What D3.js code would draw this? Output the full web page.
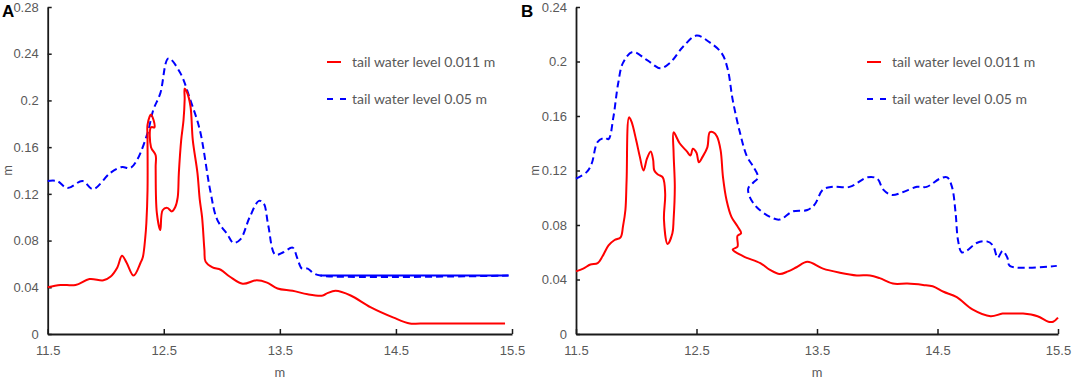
<!DOCTYPE html>
<html>
<head>
<meta charset="utf-8">
<script src="https://cdn.jsdelivr.net/npm/d3@7"></script>
<style>
    body { margin: 0; background: #fff; }
    svg { display: block; font-family: Lato, 'Open Sans', sans-serif; }
</style>
</head>
<body>
<svg id="chart" width="1074" height="380"></svg>
<script>
// x positions (m) and water surface (m)
const xTicks = [11.5, 12.5, 13.5, 14.5, 15.5];
const yTicksA = [0, 0.04, 0.08, 0.12, 0.16, 0.2, 0.24, 0.28];
const yTicksB = [0, 0.04, 0.08, 0.12, 0.16, 0.2, 0.24];
const seriesNames = ['tail water level 0.011 m', 'tail water level 0.05 m'];

const redA = [
    [11.50, 0.040], [11.61, 0.042], [11.74, 0.042], [11.86, 0.047], [11.98, 0.046],
    [12.04, 0.049], [12.10, 0.057], [12.14, 0.067], [12.18, 0.061], [12.24, 0.050],
    [12.30, 0.061], [12.32, 0.066], [12.34, 0.082], [12.35, 0.095], [12.36, 0.123],
    [12.36, 0.169], [12.36, 0.179], [12.39, 0.188], [12.42, 0.177], [12.39, 0.177],
    [12.39, 0.160], [12.43, 0.153], [12.43, 0.143], [12.44, 0.104], [12.47, 0.089],
    [12.49, 0.106], [12.53, 0.108], [12.57, 0.105], [12.60, 0.109], [12.62, 0.117],
    [12.63, 0.138], [12.65, 0.166], [12.67, 0.183], [12.68, 0.201], [12.68, 0.210],
    [12.70, 0.207], [12.73, 0.195], [12.75, 0.166], [12.79, 0.138], [12.81, 0.115],
    [12.83, 0.100], [12.85, 0.072], [12.86, 0.062], [12.92, 0.057], [12.99, 0.055],
    [13.07, 0.049], [13.18, 0.043], [13.30, 0.046], [13.39, 0.044], [13.48, 0.039],
    [13.61, 0.037], [13.74, 0.034], [13.87, 0.033], [13.91, 0.035], [13.98, 0.037],
    [14.11, 0.033], [14.28, 0.023], [14.48, 0.014], [14.62, 0.009], [14.71, 0.009],
    [15.44, 0.009]
];

const blueA = [
    [11.50, 0.131], [11.58, 0.131], [11.67, 0.125], [11.80, 0.131], [11.89, 0.124],
    [12.04, 0.138], [12.14, 0.143], [12.21, 0.142], [12.27, 0.149], [12.36, 0.172],
    [12.41, 0.192], [12.47, 0.206], [12.54, 0.236], [12.64, 0.224], [12.73, 0.200],
    [12.81, 0.175], [12.90, 0.123], [12.96, 0.098], [13.05, 0.085], [13.10, 0.078],
    [13.16, 0.081], [13.24, 0.100], [13.32, 0.114], [13.36, 0.112], [13.40, 0.093],
    [13.46, 0.068], [13.53, 0.070], [13.61, 0.074], [13.65, 0.065], [13.69, 0.056],
    [13.74, 0.056], [13.79, 0.052], [13.85, 0.050], [15.47, 0.050]
];

const redB = [
    [11.50, 0.046], [11.56, 0.048], [11.62, 0.051], [11.68, 0.052], [11.72, 0.057],
    [11.77, 0.065], [11.82, 0.069], [11.87, 0.071], [11.89, 0.079], [11.91, 0.091],
    [11.92, 0.113], [11.94, 0.159], [11.96, 0.156], [12.00, 0.142], [12.03, 0.130],
    [12.06, 0.120], [12.09, 0.129], [12.12, 0.134], [12.14, 0.128], [12.15, 0.120],
    [12.18, 0.117], [12.22, 0.115], [12.24, 0.103], [12.23, 0.084], [12.26, 0.066],
    [12.30, 0.074], [12.31, 0.084], [12.32, 0.108], [12.31, 0.133], [12.31, 0.148],
    [12.36, 0.140], [12.42, 0.134], [12.45, 0.131], [12.47, 0.136], [12.50, 0.133],
    [12.52, 0.126], [12.55, 0.130], [12.59, 0.137], [12.61, 0.148], [12.64, 0.148],
    [12.67, 0.145], [12.70, 0.135], [12.72, 0.115], [12.75, 0.098], [12.79, 0.086],
    [12.84, 0.079], [12.87, 0.074], [12.84, 0.072], [12.84, 0.064], [12.80, 0.062],
    [12.89, 0.057], [13.03, 0.052], [13.11, 0.047], [13.19, 0.044], [13.26, 0.046],
    [13.33, 0.049], [13.42, 0.053], [13.55, 0.048], [13.69, 0.045], [13.83, 0.043],
    [13.94, 0.043], [14.02, 0.041], [14.13, 0.037], [14.25, 0.037], [14.38, 0.036],
    [14.46, 0.035], [14.55, 0.031], [14.66, 0.027], [14.79, 0.018], [14.94, 0.013],
    [15.04, 0.015], [15.13, 0.015], [15.21, 0.015], [15.33, 0.013], [15.42, 0.009],
    [15.46, 0.009], [15.50, 0.012]
];

const blueB = [
    [11.50, 0.114], [11.59, 0.119], [11.63, 0.125], [11.68, 0.141], [11.74, 0.144],
    [11.77, 0.143], [11.81, 0.159], [11.85, 0.184], [11.89, 0.199], [11.97, 0.207],
    [12.09, 0.201], [12.20, 0.195], [12.28, 0.199], [12.39, 0.211], [12.50, 0.219],
    [12.61, 0.214], [12.71, 0.206], [12.76, 0.194], [12.80, 0.172], [12.86, 0.148],
    [12.92, 0.130], [12.97, 0.123], [13.01, 0.115], [12.97, 0.111], [12.93, 0.107],
    [12.94, 0.101], [13.00, 0.093], [13.11, 0.086], [13.19, 0.084], [13.30, 0.090],
    [13.42, 0.091], [13.48, 0.095], [13.55, 0.106], [13.63, 0.108], [13.77, 0.108],
    [13.92, 0.115], [14.00, 0.114], [14.05, 0.106], [14.12, 0.102], [14.21, 0.104],
    [14.33, 0.108], [14.41, 0.108], [14.52, 0.114], [14.58, 0.115], [14.62, 0.108],
    [14.65, 0.089], [14.67, 0.069], [14.70, 0.060], [14.74, 0.061], [14.83, 0.067],
    [14.91, 0.068], [14.96, 0.065], [15.00, 0.056], [15.04, 0.061], [15.08, 0.056],
    [15.10, 0.050], [15.49, 0.050]
];

class ProfilePanel {
    constructor(svg, opts) {
        this.svg = svg;
        this.opts = opts;
        this.g = svg.append('g');

        this.textColor = '#595959';
        this.red = '#ff0000';
        this.blue = '#0000ff';
    }
    //----------------------------------------------------------------------------
    draw() {
        this.#scaling();
        this.#drawAxis();
        this.#drawLines();
        this.#drawLegend();
    }
    //----------------------------------------------------------------------------
    #scaling() {
        const o = this.opts;

        this.xScale = d3.scaleLinear()
            .domain([11.5, 15.5])
            .range([o.left, o.right]);

        this.yScale = d3.scaleLinear()
            .domain([0, d3.max(o.yTicks)])
            .range([o.bottom, o.top]);
    }
    //----------------------------------------------------------------------------
    #drawAxis() {
        const o = this.opts;

        // Y axis, ticks point inward
        const yAxis = d3.axisLeft(this.yScale)
            .tickValues(o.yTicks)
            .tickSizeInner(-4)
            .tickSizeOuter(0)
            .tickPadding(9)
            .tickFormat(d => String(+d.toFixed(2)));

        const gy = this.g.append('g')
            .attr('transform', `translate(${o.left}, 0)`)
            .call(yAxis);

        // X axis
        const xAxis = d3.axisBottom(this.xScale)
            .tickValues(xTicks)
            .tickSizeInner(-5)
            .tickSizeOuter(0)
            .tickPadding(12)
            .tickFormat(d => d.toFixed(1));

        const gx = this.g.append('g')
            .attr('transform', `translate(0, ${o.bottom})`)
            .call(xAxis);

        [gx, gy].forEach(ax => {
            ax.select('.domain').attr('stroke', '#1a1a1a').attr('stroke-width', 1.8);
            ax.selectAll('.tick line').attr('stroke', '#1a1a1a').attr('stroke-width', 1.5);
            ax.selectAll('.tick text')
                .attr('fill', this.textColor)
                .style('font-size', '13px');
        });

        // axis titles
        this.g.append('text')
            .attr('x', (o.left + o.right) / 2)
            .attr('y', 377)
            .attr('text-anchor', 'middle')
            .attr('fill', this.textColor)
            .style('font-size', '13px')
            .text('m');

        this.g.append('text')
            .attr('transform', `translate(${o.yTitleX}, ${(o.top + o.bottom) / 2}) rotate(-90)`)
            .attr('text-anchor', 'middle')
            .attr('dy', '0.35em')
            .attr('fill', this.textColor)
            .style('font-size', '13px')
            .text('m');

        // panel letter
        this.g.append('text')
            .attr('x', o.letterX)
            .attr('y', 17)
            .attr('fill', '#000')
            .style('font-family', "'Liberation Sans', Arial, sans-serif")
            .style('font-weight', 'bold')
            .style('font-size', '17px')
            .text(o.letter);
    }
    //----------------------------------------------------------------------------
    #drawLines() {
        const o = this.opts;
        const line = d3.line()
            .x(d => this.xScale(d[0]))
            .y(d => this.yScale(d[1]))
            .curve(d3.curveCatmullRom.alpha(0.5));

        this.g.append('path')
            .attr('fill', 'none')
            .attr('stroke', this.blue)
            .attr('stroke-width', 2)
            .attr('stroke-dasharray', '7,4')
            .attr('d', line(o.blue));

        // the flat tail of A's blue curve is drawn solid in the figure
        if (o.blueSolidFrom != null) {
            this.g.append('path')
                .attr('fill', 'none')
                .attr('stroke', this.blue)
                .attr('stroke-width', 2)
                .attr('d', line(o.blue.filter(d => d[0] >= o.blueSolidFrom)));
        }

        this.g.append('path')
            .attr('fill', 'none')
            .attr('stroke', this.red)
            .attr('stroke-width', 2)
            .attr('stroke-linejoin', 'round')
            .attr('d', line(o.red));
    }
    //----------------------------------------------------------------------------
    #drawLegend() {
        const o = this.opts;
        const lg = this.g.append('g')
            .attr('transform', `translate(${o.legendX}, 62)`);

        lg.append('line')
            .attr('x1', 0).attr('x2', 14)
            .attr('y1', 0).attr('y2', 0)
            .attr('stroke', this.red)
            .attr('stroke-width', 2);

        lg.append('line')
            .attr('x1', 0).attr('x2', 20)
            .attr('y1', 37).attr('y2', 37)
            .attr('stroke', this.blue)
            .attr('stroke-width', 2)
            .attr('stroke-dasharray', '6,7');

        lg.selectAll('text')
            .data(seriesNames)
            .join('text')
            .attr('x', 25)
            .attr('y', (d, i) => i * 37)
            .attr('dy', '0.35em')
            .attr('fill', this.textColor)
            .style('font-size', '14px')
            .text(d => d);
    }
}

const svg = d3.select('#chart');

new ProfilePanel(svg, {
    letter: 'A', letterX: 2, yTitleX: 7,
    left: 47.7, right: 512, top: 7, bottom: 334,
    yTicks: yTicksA, red: redA, blue: blueA, blueSolidFrom: 13.85,
    legendX: 327
}).draw();

new ProfilePanel(svg, {
    letter: 'B', letterX: 521, yTitleX: 534,
    left: 576, right: 1058, top: 7, bottom: 334,
    yTicks: yTicksB, red: redB, blue: blueB, blueSolidFrom: null,
    legendX: 867
}).draw();
</script>
</body>
</html>
